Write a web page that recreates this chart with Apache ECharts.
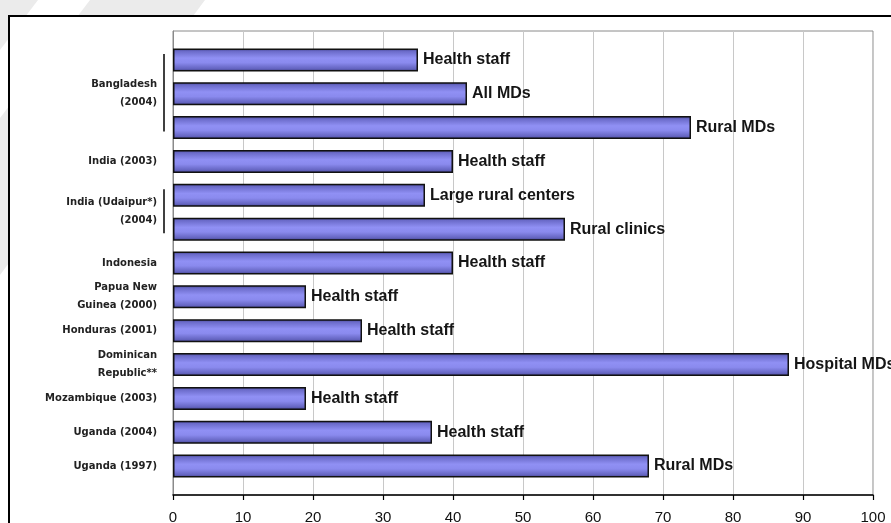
<!DOCTYPE html>
<html>
<head>
<meta charset="utf-8">
<script src="https://cdn.jsdelivr.net/npm/echarts@6/dist/echarts.min.js"></script>
<style>
html,body{margin:0;padding:0;background:#fff;}
#chart{width:891px;height:523px;}
</style>
</head>
<body>
<div id="chart"></div>
<script>
// ---- data ----
const categories = [
  'Bangladesh (2004) Health staff',
  'Bangladesh (2004) All MDs',
  'Bangladesh (2004) Rural MDs',
  'India (2003) Health staff',
  'India (Udaipur*) (2004) Large rural centers',
  'India (Udaipur*) (2004) Rural clinics',
  'Indonesia Health staff',
  'Papua New Guinea (2000) Health staff',
  'Honduras (2001) Health staff',
  'Dominican Republic** Hospital MDs',
  'Mozambique (2003) Health staff',
  'Uganda (2004) Health staff',
  'Uganda (1997) Rural MDs'
];
const values = [35, 42, 74, 40, 36, 56, 40, 19, 27, 88, 19, 37, 68];
const barLabels = ['Health staff', 'All MDs', 'Rural MDs', 'Health staff', 'Large rural centers',
  'Rural clinics', 'Health staff', 'Health staff', 'Health staff', 'Hospital MDs',
  'Health staff', 'Health staff', 'Rural MDs'];
const tickLabels = ['', 'Bangladesh\n(2004)', '', 'India (2003)', '', 'India (Udaipur*)\n(2004)\n\n',
  'Indonesia', 'Papua New\nGuinea (2000)', 'Honduras (2001)', 'Dominican\nRepublic**',
  'Mozambique (2003)', 'Uganda (2004)', 'Uganda (1997)'];
const groupSpans = [[0, 2], [4, 5]];
const xMin = 0, xMax = 100, xStep = 10;

// ---- chart ----
const chart = echarts.init(document.getElementById('chart'));

const barGradient = {
  type: 'linear', x: 0, y: 0, x2: 0, y2: 1,
  colorStops: [
    { offset: 0, color: '#3c3c80' },
    { offset: 0.12, color: '#6a6ac8' },
    { offset: 0.42, color: '#9090f4' },
    { offset: 0.62, color: '#8a8aee' },
    { offset: 0.88, color: '#6464c0' },
    { offset: 1, color: '#3c3c80' }
  ]
};

chart.setOption({
  animation: false,
  backgroundColor: 'transparent',
  grid: [
    { left: 173, right: 18, top: 31, bottom: 28, show: true, borderColor: '#8a8a8a', borderWidth: 1,
      containLabel: false, outerBoundsMode: 'none' },
    { left: 173, right: 18, top: 43, bottom: 40, containLabel: false, outerBoundsMode: 'none' }
  ],
  xAxis: [
    {
      gridIndex: 0, type: 'value', min: xMin, max: xMax, interval: xStep,
      axisLine: { show: true, lineStyle: { color: '#000', width: 1.5 } },
      axisTick: { show: true, length: 5, lineStyle: { color: '#000', width: 1.2 } },
      axisLabel: { fontSize: 15, color: '#111', margin: 15, fontFamily: 'Liberation Sans' },
      splitLine: { show: true, lineStyle: { color: '#c8c8c8', width: 1 } }
    },
    {
      gridIndex: 1, type: 'value', min: xMin, max: xMax, show: false
    }
  ],
  yAxis: [
    {
      gridIndex: 0, type: 'value', min: 0, max: 1,
      axisLine: { show: true, lineStyle: { color: '#8a8a8a', width: 1 } },
      axisTick: { show: false }, axisLabel: { show: false }, splitLine: { show: false }
    },
    {
      gridIndex: 1, type: 'category', inverse: true, data: categories,
      axisLine: { show: false }, axisTick: { show: false }, splitLine: { show: false },
      axisLabel: {
        interval: 0, hideOverlap: false,
        margin: 16, fontSize: 10, fontWeight: 'bold', color: '#222',
        fontFamily: 'DejaVu Sans', lineHeight: 18, align: 'right',
        formatter: (v, i) => tickLabels[i]
      }
    }
  ],
  series: [{
    type: 'bar', xAxisIndex: 1, yAxisIndex: 1,
    data: values, barWidth: 23,
    itemStyle: { color: barGradient, borderColor: '#111', borderWidth: 1.5 },
    label: {
      show: true, position: 'right', distance: 5,
      formatter: p => barLabels[p.dataIndex],
      fontSize: 16, fontWeight: 'bold', color: '#151515', fontFamily: 'Liberation Sans'
    }
  }]
});

function drawDecor() {
  const x0 = chart.convertToPixel({ xAxisIndex: 1 }, xMin);
  const els = [
    { type: 'polygon', z: -10, shape: { points: [[0, 0], [38, 0], [0, 50]] }, style: { fill: '#ebebeb' }, silent: true },
    { type: 'polygon', z: -10, shape: { points: [[90, 0], [205, 0], [0, 275], [0, 118]] }, style: { fill: '#ebebeb' }, silent: true },
    { type: 'rect', z: -9, shape: { x: 10, y: 17, width: 881, height: 506 }, style: { fill: '#fff' }, silent: true },
    { type: 'polyline', z: 5, shape: { points: [[9, 523], [9, 16], [891, 16]] }, style: { stroke: '#000', lineWidth: 2, fill: null }, silent: true }
  ];
  groupSpans.forEach(([a, b]) => {
    const ya = chart.convertToPixel({ yAxisIndex: 1 }, categories[a]);
    const yb = chart.convertToPixel({ yAxisIndex: 1 }, categories[b]);
    els.push({
      type: 'line', z: 5, silent: true,
      shape: { x1: x0 - 9, y1: ya - 6, x2: x0 - 9, y2: yb + 4 },
      style: { stroke: '#000', lineWidth: 1.5 }
    });
  });
  chart.setOption({ graphic: { elements: els } });
}
drawDecor();
</script>
</body>
</html>
